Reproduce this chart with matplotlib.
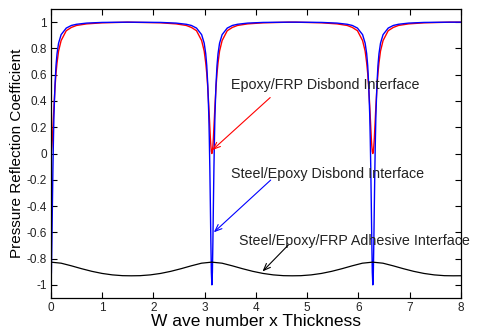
import matplotlib
matplotlib.use("Agg")
import matplotlib.pyplot as plt

# shared x grid (wave number x thickness) for the two disbond curves
x_disbond = [0.0, 0.01, 0.02, 0.03, 0.04, 0.05, 0.06, 0.08, 0.10, 0.12, 0.15, 0.20, 0.30, 0.40, 0.50, 0.70, 1.00, 1.50,
             2.142, 2.442, 2.642, 2.742, 2.842, 2.942, 2.992, 3.022, 3.042, 3.062, 3.082, 3.092, 3.102, 3.112, 3.122, 3.132,
             3.142,
             3.152, 3.162, 3.172, 3.182, 3.192, 3.202, 3.222, 3.242, 3.262, 3.292, 3.342, 3.442, 3.542, 3.642, 3.842, 4.142, 4.642,
             4.783, 5.283, 5.583, 5.783, 5.883, 5.983, 6.083, 6.133, 6.163, 6.183, 6.203, 6.223, 6.233, 6.243, 6.253, 6.263, 6.273,
             6.283,
             6.293, 6.303, 6.313, 6.323, 6.333, 6.343, 6.363, 6.383, 6.403, 6.433, 6.483, 6.583, 6.683, 6.783, 6.983, 7.283, 7.783, 8.0]

steel_epoxy = [-1.0, -0.905, -0.667, -0.38, -0.11, 0.11, 0.29, 0.52, 0.67, 0.76, 0.84, 0.905, 0.955, 0.975, 0.984, 0.993, 0.998, 1.0,
               0.998, 0.993, 0.984, 0.975, 0.955, 0.905, 0.84, 0.76, 0.67, 0.52, 0.29, 0.11, -0.11, -0.38, -0.667, -0.905,
               -1.0,
               -0.905, -0.667, -0.38, -0.11, 0.11, 0.29, 0.52, 0.67, 0.76, 0.84, 0.905, 0.955, 0.975, 0.984, 0.993, 0.998, 1.0,
               1.0, 0.998, 0.993, 0.984, 0.975, 0.955, 0.905, 0.84, 0.76, 0.67, 0.52, 0.29, 0.11, -0.11, -0.38, -0.667, -0.905,
               -1.0,
               -0.905, -0.667, -0.38, -0.11, 0.11, 0.29, 0.52, 0.67, 0.76, 0.84, 0.905, 0.955, 0.975, 0.984, 0.993, 0.998, 1.0, 1.0]

epoxy_frp = [0.0, 0.015, 0.06, 0.12, 0.2, 0.28, 0.36, 0.5, 0.61, 0.69, 0.78, 0.86, 0.935, 0.96, 0.975, 0.987, 0.995, 1.0,
             0.995, 0.987, 0.975, 0.96, 0.935, 0.86, 0.78, 0.69, 0.61, 0.5, 0.36, 0.28, 0.2, 0.12, 0.06, 0.015,
             0.0,
             0.015, 0.06, 0.12, 0.2, 0.28, 0.36, 0.5, 0.61, 0.69, 0.78, 0.86, 0.935, 0.96, 0.975, 0.987, 0.995, 1.0,
             1.0, 0.995, 0.987, 0.975, 0.96, 0.935, 0.86, 0.78, 0.69, 0.61, 0.5, 0.36, 0.28, 0.2, 0.12, 0.06, 0.015,
             0.0,
             0.015, 0.06, 0.12, 0.2, 0.28, 0.36, 0.5, 0.61, 0.69, 0.78, 0.86, 0.935, 0.96, 0.975, 0.987, 0.995, 1.0, 1.0]

x_adhesive = [0.0, 0.2, 0.4, 0.6, 0.8, 1.0, 1.2, 1.4, 1.57, 1.74, 1.94, 2.14, 2.34, 2.54, 2.74, 2.94, 3.14,
              3.34, 3.54, 3.74, 3.94, 4.14, 4.34, 4.54, 4.71, 4.88, 5.08, 5.28, 5.48, 5.68, 5.88, 6.08, 6.28,
              6.48, 6.68, 6.88, 7.08, 7.28, 7.48, 7.68, 7.85, 8.0]
adhesive = [-0.827, -0.835, -0.855, -0.877, -0.897, -0.913, -0.924, -0.930, -0.931, -0.930, -0.924, -0.913, -0.897, -0.877, -0.855, -0.835, -0.827,
            -0.835, -0.855, -0.877, -0.897, -0.913, -0.924, -0.930, -0.931, -0.930, -0.924, -0.913, -0.897, -0.877, -0.855, -0.835, -0.827,
            -0.835, -0.855, -0.877, -0.897, -0.913, -0.924, -0.930, -0.931, -0.9305]

x_ticks = [0, 1, 2, 3, 4, 5, 6, 7, 8]
y_ticks = [-1, -0.8, -0.6, -0.4, -0.2, 0, 0.2, 0.4, 0.6, 0.8, 1]
y_ticklabels = ["-1", "-0.8", "-0.6", "-0.4", "-0.2", "0", "0.2", "0.4", "0.6", "0.8", "1"]

labels = ["Epoxy/FRP Disbond Interface", "Steel/Epoxy Disbond Interface", "Steel/Epoxy/FRP Adhesive Interface"]
label_pos = [(3.51, 0.52), (3.51, -0.156), (3.67, -0.663)]
arrow_start = [(4.28, 0.426), (4.29, -0.202), (4.635, -0.696)]
arrow_tip = [(3.15, 0.026), (3.18, -0.60), (4.13, -0.898)]
arrow_colors = ['#ff0000', '#0000ff', 'black']

plt.rcParams['font.family'] = ['Liberation Sans', 'DejaVu Sans']

fig = plt.figure(figsize=(4.8, 3.31), dpi=100)
ax = fig.add_axes([0.106, 0.0997, 0.854, 0.873])

ax.plot(x_disbond, epoxy_frp, color='#ff0000', lw=1.0)
ax.plot(x_disbond, steel_epoxy, color='#0000ff', lw=1.0)
ax.plot(x_adhesive, adhesive, color='black', lw=0.9)

ax.set_xlim(0, 8)
ax.set_ylim(-1.1, 1.1)
ax.set_xticks(x_ticks)
ax.set_yticks(y_ticks)
ax.set_yticklabels(y_ticklabels)
ax.tick_params(direction='in', top=True, right=True, length=4, width=0.8, labelsize=8.5, pad=3,
               labelcolor='#222222')
for s in ax.spines.values():
    s.set_linewidth(0.9)

ax.set_xlabel("W ave number x Thickness", fontsize=12.5, labelpad=0)
ax.set_ylabel("Pressure Reflection Coefficient", fontsize=11, labelpad=2)

for lab, pos, st, tip, c in zip(labels, label_pos, arrow_start, arrow_tip, arrow_colors):
    ax.text(pos[0], pos[1], lab, fontsize=10.3, va='center', ha='left', color='#222222')
    ax.annotate('', xy=tip, xytext=st,
                arrowprops=dict(arrowstyle='->,head_length=0.5,head_width=0.2', color=c, lw=0.8,
                                shrinkA=0, shrinkB=0))

fig.savefig("out.png", dpi=100)
